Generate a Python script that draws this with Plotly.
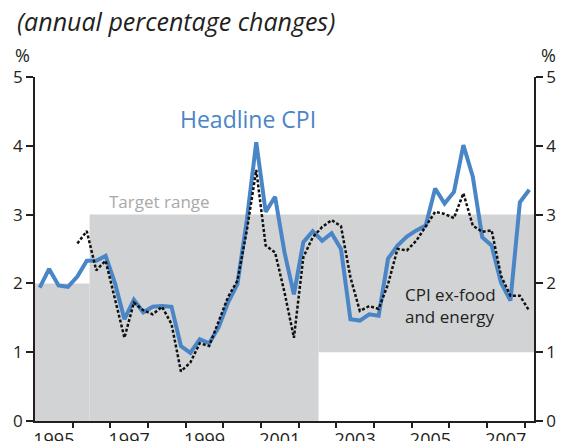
import plotly.graph_objects as go

# quarterly data, 1995Q1 .. 2008Q1 (x = quarter midpoints in decimal years)
start_year = 1995
headline_cpi = [1.94, 2.21, 1.97, 1.95, 2.10, 2.33, 2.33, 2.40, 2.00, 1.48, 1.76, 1.58,
                1.66, 1.67, 1.66, 1.09, 0.99, 1.19, 1.13, 1.36, 1.72, 1.99, 2.92, 4.05,
                3.04, 3.26, 2.45, 1.84, 2.60, 2.76, 2.62, 2.73, 2.50, 1.48, 1.46, 1.55,
                1.53, 2.36, 2.55, 2.68, 2.77, 2.84, 3.38, 3.16, 3.33, 4.01, 3.55, 2.67,
                2.55, 2.01, 1.75, 3.18, 3.36]
core_cpi = [None, None, None, None, 2.58, 2.76, 2.19, 2.33, 1.77, 1.21, 1.72, 1.61,
            1.55, 1.66, 1.41, 0.72, 0.85, 1.13, 1.09, 1.45, 1.80, 2.04, 2.77, 3.65,
            2.55, 2.45, 1.87, 1.21, 2.38, 2.67, 2.82, 2.92, 2.83, 2.09, 1.60, 1.67,
            1.63, 1.99, 2.50, 2.48, 2.62, 2.83, 3.04, 3.01, 2.95, 3.31, 2.84, 2.75,
            2.77, 2.11, 1.82, 1.82, 1.60]
quarters = [start_year + 0.125 + 0.25 * i for i in range(len(headline_cpi))]

# target range bands
target_start = [1995.0, 1996.45, 2002.53]
target_end = [1996.45, 2002.53, 2008.25]
target_low = [0, 0, 1]
target_high = [2, 3, 3]

x_range = [1995.0, 2008.25]
y_range = [0, 5]
year_ticks = list(range(1996, 2009))
label_years = list(range(1995, 2008, 2))
y_ticks = [0, 1, 2, 3, 4, 5]

TXT = "#231f20"
BLUE = "#4a85c6"
GRAY = "#d1d3d4"
FONT = "Open Sans"

L, R, T, B = 35, 27, 77, 20
PW, PH = 561 - L - R, 441 - T - B

fig = go.Figure()

fig.add_trace(go.Scatter(x=quarters, y=headline_cpi, mode="lines",
                         line=dict(color=BLUE, width=4), name="Headline CPI",
                         xaxis="x", yaxis="y"))
fig.add_trace(go.Scatter(x=quarters, y=core_cpi, mode="lines",
                         line=dict(color="#111111", width=2.5, dash="3px,2px"),
                         name="CPI ex-food and energy", xaxis="x2", yaxis="y2"))

for s, e, lo, hi in zip(target_start, target_end, target_low, target_high):
    fig.add_shape(type="rect", xref="x", yref="y", x0=s, x1=e, y0=lo, y1=hi,
                  fillcolor=GRAY, line=dict(width=0), layer="below")

axis_common = dict(showgrid=False, zeroline=False, automargin=False)
fig.update_layout(
    width=561, height=441,
    margin=dict(l=L, r=R, t=T, b=B, autoexpand=False),
    paper_bgcolor="white", plot_bgcolor="white",
    showlegend=False,
    font=dict(family=FONT, color=TXT, size=17),
    xaxis=dict(range=x_range, tickvals=year_ticks, showticklabels=False,
               ticks="outside", ticklen=5, tickwidth=1.5, tickcolor=TXT,
               showline=True, linecolor=TXT, linewidth=1.5, **axis_common),
    xaxis2=dict(range=x_range, overlaying="x", anchor="y", side="bottom",
                tickvals=[y + 0.5 for y in label_years],
                ticktext=[str(y) for y in label_years],
                ticks="outside", ticklen=2, tickcolor="rgba(0,0,0,0)",
                tickfont=dict(size=18, color=TXT), showline=False, **axis_common),
    yaxis=dict(range=y_range, tickvals=y_ticks, ticks="outside", ticklen=7,
               tickwidth=1.5, tickcolor=TXT, showline=True, linecolor=TXT,
               linewidth=1.5, tickfont=dict(size=17, color=TXT), **axis_common),
    yaxis2=dict(range=y_range, tickvals=y_ticks, overlaying="y", side="right",
                anchor="x", ticks="outside", ticklen=7, tickwidth=1.5, tickcolor=TXT,
                showline=True, linecolor=TXT, linewidth=1.5,
                tickfont=dict(size=17, color=TXT), **axis_common),
)

annotations = [
    dict(text="<i>(annual percentage changes)</i>", xref="paper", yref="paper",
         x=-(L - 15) / PW, y=1 + (T - 21) / PH, xanchor="left", yanchor="middle",
         font=dict(size=25, color=TXT), showarrow=False),
    dict(text="%", xref="paper", yref="paper", x=-(L - 22) / PW, y=1 + (T - 55) / PH,
         xanchor="center", yanchor="middle", font=dict(size=18, color=TXT), showarrow=False),
    dict(text="%", xref="paper", yref="paper", x=1 + (548 - (561 - R)) / PW, y=1 + (T - 55) / PH,
         xanchor="center", yanchor="middle", font=dict(size=18, color=TXT), showarrow=False),
    dict(text="Headline CPI", x=1998.8, y=4.39, xref="x", yref="y",
         xanchor="left", yanchor="middle", font=dict(size=23, color=BLUE), showarrow=False),
    dict(text="Target range", x=1996.9, y=3.19, xref="x", yref="y",
         xanchor="left", yanchor="middle", font=dict(size=17, color="#a7a9ac"), showarrow=False),
    dict(text="CPI ex-food<br>and energy", x=2004.78, y=1.68, xref="x", yref="y",
         xanchor="left", yanchor="middle", align="left",
         font=dict(size=17, color=TXT), showarrow=False),
]
fig.update_layout(annotations=annotations)

fig.write_html("out.html", config={"displayModeBar": False},
               post_script="document.body.style.margin='0px';document.body.style.overflow='hidden';")
